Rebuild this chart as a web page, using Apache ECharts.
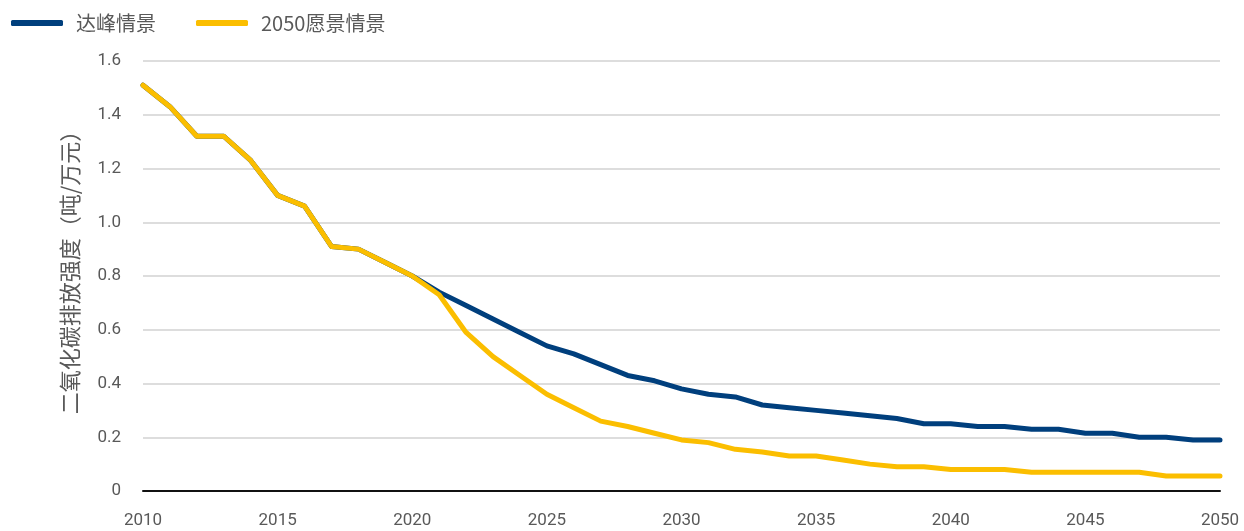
<!DOCTYPE html>
<html>
<head>
<meta charset="utf-8">
<script src="https://cdn.jsdelivr.net/npm/echarts@6/dist/echarts.min.js"></script>
<style>
  html, body { margin: 0; padding: 0; background: #ffffff; }
  #chart { width: 1244px; height: 531px; }
</style>
</head>
<body>
<div id="chart"></div>
<script>
// Years on the horizontal axis
const years = [
  2010, 2011, 2012, 2013, 2014, 2015, 2016, 2017, 2018, 2019,
  2020, 2021, 2022, 2023, 2024, 2025, 2026, 2027, 2028, 2029,
  2030, 2031, 2032, 2033, 2034, 2035, 2036, 2037, 2038, 2039,
  2040, 2041, 2042, 2043, 2044, 2045, 2046, 2047, 2048, 2049, 2050
];

// CO2 emission intensity (t / 10k yuan), peak scenario
const peakScenario = [
  1.51, 1.43, 1.32, 1.32, 1.23, 1.10, 1.06, 0.91, 0.90, 0.85,
  0.80, 0.74, 0.69, 0.64, 0.59, 0.54, 0.51, 0.47, 0.43, 0.41,
  0.38, 0.36, 0.35, 0.32, 0.31, 0.30, 0.29, 0.28, 0.27, 0.25,
  0.25, 0.24, 0.24, 0.23, 0.23, 0.215, 0.215, 0.20, 0.20, 0.19, 0.19
];

// CO2 emission intensity (t / 10k yuan), 2050 vision scenario
const visionScenario = [
  1.51, 1.43, 1.32, 1.32, 1.23, 1.10, 1.06, 0.91, 0.90, 0.85,
  0.80, 0.73, 0.59, 0.50, 0.43, 0.36, 0.31, 0.26, 0.24, 0.215,
  0.19, 0.18, 0.155, 0.145, 0.13, 0.13, 0.115, 0.10, 0.09, 0.09,
  0.08, 0.08, 0.08, 0.07, 0.07, 0.07, 0.07, 0.07, 0.056, 0.056, 0.056
];

const seriesNames = ['达峰情景', '2050愿景情景'];
const yAxisTitle = '二氧化碳排放强度（吨/万元）';

const NUM_FONT = 'Roboto, "Liberation Sans Narrow", sans-serif';
const CJK_FONT = '"Noto Sans CJK SC", Roboto, sans-serif';
const TEXT_COLOR = '#595959';
const BLUE = '#003F7D';
const YELLOW = '#FBBE00';

const pairs = (vals) => years.map((y, i) => [y, vals[i]]);

const chart = echarts.init(document.getElementById('chart'), null, { renderer: 'canvas' });

chart.setOption({
  animation: false,
  backgroundColor: '#ffffff',
  legend: {
    left: 6,
    top: 8,
    itemWidth: 52,
    itemHeight: 6,
    itemGap: 40,
    icon: 'roundRect',
    textStyle: {
      fontFamily: CJK_FONT,
      fontSize: 20,
      color: TEXT_COLOR,
      padding: [0, 0, 0, 8]
    },
    data: seriesNames
  },
  grid: {
    left: 143,
    right: 24,
    top: 61,
    bottom: 40,
    containLabel: false
  },
  xAxis: {
    type: 'value',
    min: 2010,
    max: 2050,
    interval: 5,
    axisLine: { show: true, lineStyle: { color: '#111111', width: 2 } },
    axisTick: { show: false },
    splitLine: { show: false },
    axisLabel: {
      color: TEXT_COLOR,
      fontFamily: NUM_FONT,
      fontSize: 17,
      margin: 21,
      formatter: (v) => String(v)
    }
  },
  yAxis: {
    type: 'value',
    min: 0,
    max: 1.6,
    interval: 0.2,
    name: yAxisTitle,
    nameLocation: 'middle',
    nameGap: 62,
    nameRotate: 90,
    nameTextStyle: {
      color: TEXT_COLOR,
      fontFamily: CJK_FONT,
      fontSize: 22,
      padding: [0, 0, 0, 18]
    },
    axisLine: { show: false },
    axisTick: { show: false },
    splitLine: { show: true, lineStyle: { color: '#dddddd', width: 2 } },
    axisLabel: {
      color: TEXT_COLOR,
      fontFamily: NUM_FONT,
      fontSize: 17,
      margin: 22,
      formatter: (v) => (v === 0 ? '0' : v.toFixed(1))
    }
  },
  series: [
    {
      name: seriesNames[0],
      type: 'line',
      data: pairs(peakScenario),
      showSymbol: false,
      symbol: 'none',
      z: 2,
      lineStyle: { color: BLUE, width: 5, cap: 'round', join: 'round' },
      itemStyle: { color: BLUE }
    },
    {
      name: seriesNames[1],
      type: 'line',
      data: pairs(visionScenario),
      showSymbol: false,
      symbol: 'none',
      z: 3,
      lineStyle: { color: YELLOW, width: 5, cap: 'round', join: 'round' },
      itemStyle: { color: YELLOW }
    }
  ]
});
</script>
</body>
</html>
